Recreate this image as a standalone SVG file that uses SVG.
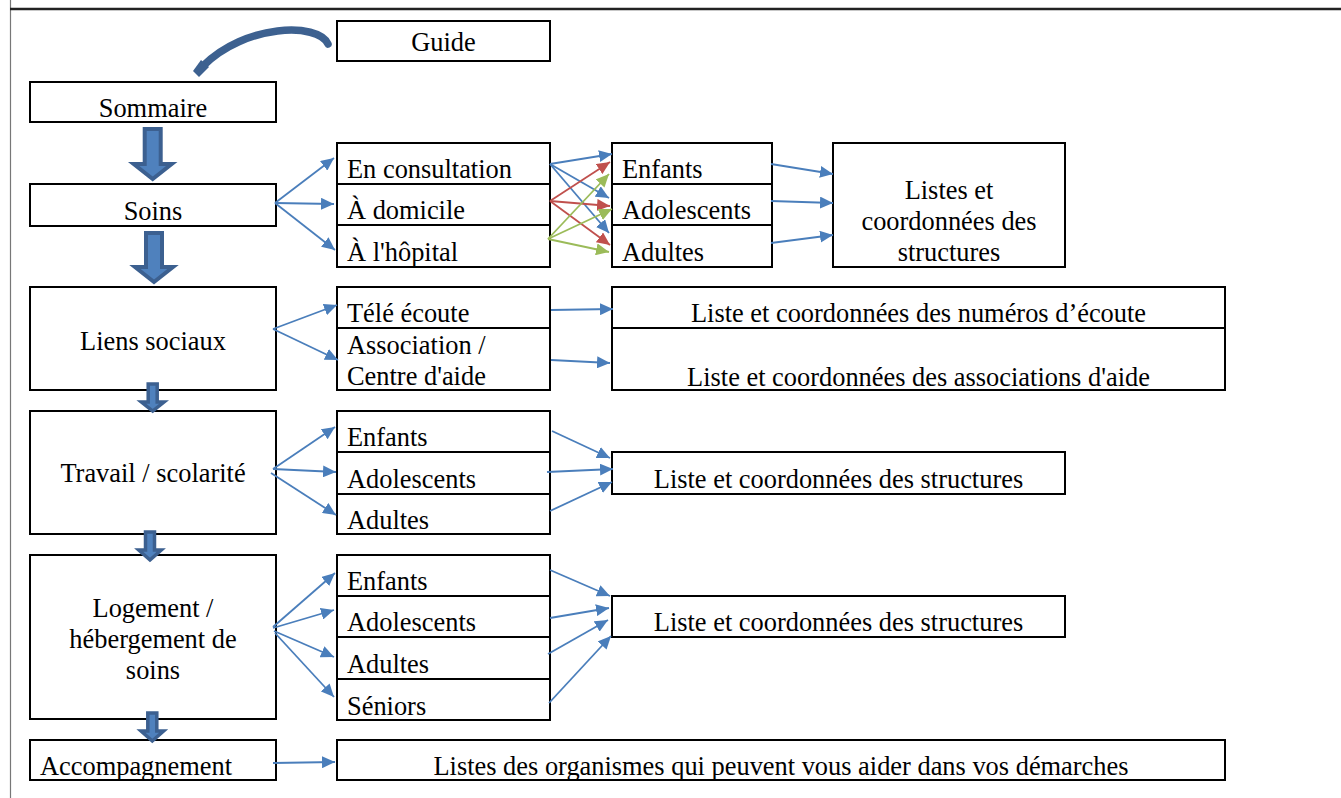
<svg xmlns="http://www.w3.org/2000/svg" width="1341" height="798" viewBox="0 0 1341 798">
<defs>
<style>
.box{fill:#fff;stroke:#000;stroke-width:2}
text{font-family:"Liberation Serif","Times New Roman",serif;font-size:26.4px;fill:#000}
.c{text-anchor:middle}
.ln{fill:none;stroke-width:1.8}
.b{stroke:#4A7EBB}
.r{stroke:#C0504D}
.g{stroke:#9BBB59}
.blk{fill:#4F81BD;stroke:#3C6090;stroke-width:4;stroke-linejoin:miter}
.blks{fill:#4F81BD;stroke:#3C6090;stroke-width:3.5;stroke-linejoin:miter}
</style>
<marker id="mb" markerUnits="userSpaceOnUse" markerWidth="14" markerHeight="12" refX="13" refY="6" orient="auto"><path d="M0,0 L13,6 L0,12 z" fill="#4A7EBB"/></marker>
<marker id="mr" markerUnits="userSpaceOnUse" markerWidth="14" markerHeight="12" refX="13" refY="6" orient="auto"><path d="M0,0 L13,6 L0,12 z" fill="#C0504D"/></marker>
<marker id="mg" markerUnits="userSpaceOnUse" markerWidth="14" markerHeight="12" refX="13" refY="6" orient="auto"><path d="M0,0 L13,6 L0,12 z" fill="#9BBB59"/></marker>
</defs>
<rect x="0" y="0" width="1341" height="798" fill="#fff"/>
<g id="page-border">
<line x1="10.5" y1="0" x2="10.5" y2="798" stroke="#777" stroke-width="1.2"/>
<line x1="10" y1="9" x2="1341" y2="9" stroke="#222" stroke-width="2.5"/>
</g>

<g id="guide"><rect class="box" x="337" y="21" width="213" height="40"/><text class="c" x="443.5" y="51">Guide</text></g>
<g id="sommaire"><rect class="box" x="30" y="82" width="246" height="40"/><text class="c" x="153" y="117">Sommaire</text></g>
<g id="soins"><rect class="box" x="30" y="184" width="246" height="42"/><text class="c" x="153" y="220">Soins</text></g>
<g id="liens-sociaux"><rect class="box" x="30" y="287" width="246" height="103"/><text class="c" x="153" y="350">Liens sociaux</text></g>
<g id="travail"><rect class="box" x="30" y="411" width="246" height="123"/><text class="c" x="153" y="482">Travail / scolarité</text></g>
<g id="logement"><rect class="box" x="30" y="555" width="246" height="164"/><text class="c" x="153" y="617">Logement /</text><text class="c" x="153" y="648">hébergement de</text><text class="c" x="153" y="679">soins</text></g>
<g id="accompagnement"><rect class="box" x="30" y="740" width="246" height="40"/><text x="40" y="775">Accompagnement</text></g>

<g id="en-consultation"><rect class="box" x="337" y="143" width="213" height="41"/><text x="347" y="178">En consultation</text></g>
<g id="a-domicile"><rect class="box" x="337" y="184" width="213" height="41"/><text x="347" y="219">À domicile</text></g>
<g id="a-hopital"><rect class="box" x="337" y="225" width="213" height="42"/><text x="347" y="261">À l'hôpital</text></g>

<g id="soins-enfants"><rect class="box" x="612" y="143" width="160" height="41"/><text x="622" y="178">Enfants</text></g>
<g id="soins-adolescents"><rect class="box" x="612" y="184" width="160" height="41"/><text x="622" y="219">Adolescents</text></g>
<g id="soins-adultes"><rect class="box" x="612" y="225" width="160" height="42"/><text x="622" y="261">Adultes</text></g>
<g id="soins-structures"><rect class="box" x="833" y="143" width="232" height="124"/><text class="c" x="949" y="199">Listes et</text><text class="c" x="949" y="230">coordonnées des</text><text class="c" x="949" y="261">structures</text></g>

<g id="tele-ecoute"><rect class="box" x="337" y="287" width="213" height="41"/><text x="347" y="322">Télé écoute</text></g>
<g id="association"><rect class="box" x="337" y="328" width="213" height="62"/><text x="347" y="354">Association /</text><text x="347" y="385">Centre d'aide</text></g>
<g id="numeros-ecoute"><rect class="box" x="612" y="287" width="613" height="41"/><text class="c" x="918.5" y="322">Liste et coordonnées des numéros d’écoute</text></g>
<g id="associations-aide"><rect class="box" x="612" y="328" width="613" height="62"/><text class="c" x="918.5" y="386">Liste et coordonnées des associations d'aide</text></g>

<g id="travail-enfants"><rect class="box" x="337" y="411" width="213" height="41"/><text x="347" y="446">Enfants</text></g>
<g id="travail-adolescents"><rect class="box" x="337" y="452" width="213" height="42"/><text x="347" y="488">Adolescents</text></g>
<g id="travail-adultes"><rect class="box" x="337" y="494" width="213" height="40"/><text x="347" y="529">Adultes</text></g>
<g id="travail-structures"><rect class="box" x="612" y="452" width="453" height="42"/><text class="c" x="838.5" y="488">Liste et coordonnées des structures</text></g>

<g id="logement-enfants"><rect class="box" x="337" y="555" width="213" height="41"/><text x="347" y="590">Enfants</text></g>
<g id="logement-adolescents"><rect class="box" x="337" y="596" width="213" height="41"/><text x="347" y="631">Adolescents</text></g>
<g id="logement-adultes"><rect class="box" x="337" y="637" width="213" height="42"/><text x="347" y="673">Adultes</text></g>
<g id="logement-seniors"><rect class="box" x="337" y="679" width="213" height="41"/><text x="347" y="715">Séniors</text></g>
<g id="logement-structures"><rect class="box" x="612" y="596" width="453" height="41"/><text class="c" x="838.5" y="631">Liste et coordonnées des structures</text></g>

<g id="organismes"><rect class="box" x="337" y="740" width="888" height="40"/><text class="c" x="781" y="775">Listes des organismes qui peuvent vous aider dans vos démarches</text></g>

<g id="connectors">
<path d="M328,44 C318,22 245,24 203,66" fill="none" stroke="#3D6190" stroke-width="7.5" stroke-linecap="round"/>
<path d="M193,71 L201,60 L209,67 L199,77 z" fill="#3D6190"/>
<path class="blk" d="M144.7,129 H160.7 V164 H171.7 L152.7,179 L133.7,164 H144.7 Z"/>
<path class="blk" d="M146,233 H162 V267 H173 L154,282 L135,267 H146 Z"/>
<path class="blks" d="M148.2,384 H157.2 V402 H164 L152.7,411 L141.4,402 H148.2 Z"/>
<path class="blks" d="M145.5,532 H154.5 V550 H161.3 L150,560 L138.7,550 H145.5 Z"/>
<path class="blks" d="M147.8,713 H156.8 V731 H163.6 L152.3,741 L141,731 H147.8 Z"/>
<line class="ln b" x1="275" y1="203" x2="334" y2="158" marker-end="url(#mb)"/>
<line class="ln b" x1="275" y1="203" x2="334" y2="204" marker-end="url(#mb)"/>
<line class="ln b" x1="275" y1="203" x2="335" y2="250" marker-end="url(#mb)"/>
<line class="ln b" x1="550" y1="164" x2="612" y2="154" marker-end="url(#mb)"/>
<line class="ln b" x1="550" y1="164" x2="609" y2="198" marker-end="url(#mb)"/>
<line class="ln b" x1="550" y1="164" x2="609" y2="233" marker-end="url(#mb)"/>
<line class="ln r" x1="550" y1="201" x2="610" y2="162" marker-end="url(#mr)"/>
<line class="ln r" x1="550" y1="201" x2="610" y2="206" marker-end="url(#mr)"/>
<line class="ln r" x1="550" y1="201" x2="610" y2="245" marker-end="url(#mr)"/>
<line class="ln g" x1="548" y1="239" x2="609" y2="174" marker-end="url(#mg)"/>
<line class="ln g" x1="548" y1="239" x2="612" y2="209" marker-end="url(#mg)"/>
<line class="ln g" x1="548" y1="239" x2="609" y2="252" marker-end="url(#mg)"/>
<line class="ln b" x1="771" y1="164" x2="833" y2="174" marker-end="url(#mb)"/>
<line class="ln b" x1="771" y1="201" x2="833" y2="203" marker-end="url(#mb)"/>
<line class="ln b" x1="771" y1="243" x2="833" y2="235" marker-end="url(#mb)"/>
<line class="ln b" x1="273" y1="329" x2="337" y2="305" marker-end="url(#mb)"/>
<line class="ln b" x1="273" y1="329" x2="338" y2="360" marker-end="url(#mb)"/>
<line class="ln b" x1="551" y1="310" x2="613" y2="309" marker-end="url(#mb)"/>
<line class="ln b" x1="551" y1="360" x2="610" y2="363" marker-end="url(#mb)"/>
<line class="ln b" x1="273" y1="469" x2="335" y2="427" marker-end="url(#mb)"/>
<line class="ln b" x1="273" y1="469" x2="336" y2="472" marker-end="url(#mb)"/>
<line class="ln b" x1="271" y1="473" x2="336" y2="515" marker-end="url(#mb)"/>
<line class="ln b" x1="552" y1="431" x2="610" y2="458" marker-end="url(#mb)"/>
<line class="ln b" x1="547" y1="472" x2="613" y2="469" marker-end="url(#mb)"/>
<line class="ln b" x1="550" y1="511" x2="612" y2="482" marker-end="url(#mb)"/>
<line class="ln b" x1="273" y1="627" x2="335" y2="573" marker-end="url(#mb)"/>
<line class="ln b" x1="273" y1="628" x2="334" y2="610" marker-end="url(#mb)"/>
<line class="ln b" x1="274" y1="631" x2="334" y2="657" marker-end="url(#mb)"/>
<line class="ln b" x1="275" y1="633" x2="334" y2="697" marker-end="url(#mb)"/>
<line class="ln b" x1="550" y1="570" x2="610" y2="596" marker-end="url(#mb)"/>
<line class="ln b" x1="550" y1="618" x2="609" y2="608" marker-end="url(#mb)"/>
<line class="ln b" x1="548" y1="654" x2="608" y2="620" marker-end="url(#mb)"/>
<line class="ln b" x1="549" y1="703" x2="611" y2="636" marker-end="url(#mb)"/>
<line class="ln b" x1="273" y1="763" x2="335" y2="762" marker-end="url(#mb)"/>
</g>
</svg>
